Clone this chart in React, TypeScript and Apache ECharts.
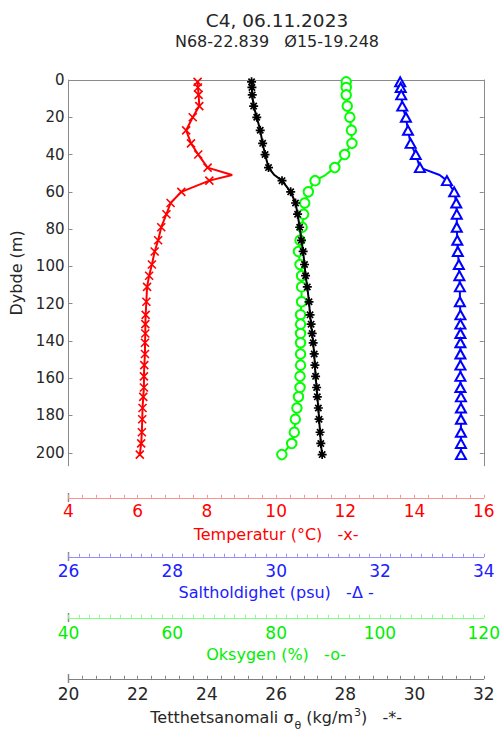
import React, { useEffect, useRef } from 'react';
import * as echarts from 'echarts';

// ---- data ----
const depth = [1, 4, 8, 14, 20, 27, 34, 40, 47, 51, 54, 60, 66, 72, 79, 86, 92, 99, 105, 111, 119, 126, 131, 136, 141, 147, 153, 159, 165, 170, 176, 182, 189, 195, 201];
const temperature = [7.73, 7.74, 7.76, 7.78, 7.59, 7.40, 7.54, 7.75, 8.02, 8.73, 8.07, 7.26, 6.95, 6.83, 6.68, 6.59, 6.49, 6.41, 6.33, 6.27, 6.25, 6.23, 6.22, 6.22, 6.21, 6.21, 6.19, 6.18, 6.18, 6.16, 6.14, 6.13, 6.12, 6.10, 6.06];
const salinity = [32.39, 32.40, 32.41, 32.43, 32.50, 32.54, 32.59, 32.69, 32.77, 33.15, 33.29, 33.43, 33.47, 33.48, 33.48, 33.49, 33.50, 33.52, 33.53, 33.54, 33.54, 33.55, 33.55, 33.55, 33.55, 33.55, 33.55, 33.55, 33.55, 33.56, 33.56, 33.56, 33.56, 33.56, 33.56];
const oxygen = [93.5, 93.5, 93.5, 93.7, 94.2, 94.5, 94.6, 93.2, 91.3, 89.5, 87.5, 86.2, 85.5, 85.3, 85.0, 84.6, 84.3, 84.6, 84.9, 84.9, 84.9, 84.7, 84.7, 84.7, 84.7, 84.7, 84.7, 84.6, 84.6, 84.3, 84.0, 83.7, 83.5, 83.0, 81.1];
const density = [25.29, 25.30, 25.31, 25.35, 25.44, 25.54, 25.61, 25.68, 25.78, 25.95, 26.17, 26.42, 26.56, 26.62, 26.68, 26.73, 26.78, 26.82, 26.85, 26.90, 26.95, 26.98, 27.01, 27.04, 27.07, 27.10, 27.12, 27.14, 27.17, 27.19, 27.22, 27.24, 27.27, 27.29, 27.33];
// depths that are drawn as line vertices only (no marker in the reference)
const unmarkedDepths = [51];

// ---- axis ticks / ranges ----
const depthTicks = [0, 20, 40, 60, 80, 100, 120, 140, 160, 180, 200];
const depthMax = 207;
const temperatureTicks = [4, 6, 8, 10, 12, 14, 16];
const salinityTicks = [26, 28, 30, 32, 34];
const oxygenTicks = [40, 60, 80, 100, 120];
const densityTicks = [20, 22, 24, 26, 28, 30, 32];

const titleText = 'C4, 06.11.2023';
const subtitleText = 'N68-22.839   Ø15-19.248';

const FONT = '"DejaVu Sans", "Liberation Sans", Arial, sans-serif';
const TXT = '#262626';
const GRAY = '#8a8a8a';

const GRID = { left: 68.5, top: 80, width: 419, height: 390 };

type AxisCfg = {
  ticks: number[];
  split: number;
  offset: number;
  lineColor: string;
  labelColor: string;
  margin: number;
  name: string;
  nameGap: number;
  rich?: any;
};

function bottomAxis(c: AxisCfg) {
  return {
    type: 'value',
    gridIndex: 0,
    position: 'bottom',
    offset: c.offset,
    min: c.ticks[0],
    max: c.ticks[c.ticks.length - 1],
    interval: c.ticks[1] - c.ticks[0],
    axisLine: { show: true, onZero: false, lineStyle: { color: c.lineColor, width: 1 } },
    axisTick: { show: true, inside: true, length: 3, lineStyle: { color: c.lineColor, width: 1 } },
    minorTick: { show: true, splitNumber: c.split, length: 3, lineStyle: { color: c.lineColor, width: 1 } },
    splitLine: { show: false },
    minorSplitLine: { show: false },
    axisLabel: { color: c.labelColor, fontSize: 17, fontFamily: FONT, margin: c.margin, showMinLabel: true, showMaxLabel: true },
    name: c.name,
    nameLocation: 'middle',
    nameGap: c.nameGap,
    nameTextStyle: { color: c.labelColor, fontSize: 16, fontFamily: FONT, rich: c.rich },
  };
}

const axesCfg: AxisCfg[] = [
  { ticks: temperatureTicks, split: 5, offset: 32, lineColor: '#ff9090', labelColor: '#ff0000', margin: 5, name: 'Temperatur (°C)   -x-', nameGap: 29 },
  { ticks: salinityTicks, split: 10, offset: 91, lineColor: '#9090ff', labelColor: '#2020ff', margin: 6, name: 'Saltholdighet (psu)   -Δ -', nameGap: 26 },
  { ticks: oxygenTicks, split: 10, offset: 152, lineColor: '#80ff80', labelColor: '#00ee00', margin: 6.5, name: 'Oksygen (%)   -o-', nameGap: 26 },
  {
    ticks: densityTicks, split: 5, offset: 213, lineColor: '#808080', labelColor: TXT, margin: 6.3,
    name: '{a|Tetthetsanomali σ}{b|θ}{a| (kg/m}{c|3}{a|)   -*-}', nameGap: 24,
    rich: {
      a: { fontSize: 16, fontFamily: FONT, color: TXT },
      b: { fontSize: 11, fontFamily: FONT, color: TXT, padding: [16, 0, 0, 1] },
      c: { fontSize: 11, fontFamily: FONT, color: TXT, padding: [0, 0, 10, 1] },
    },
  },
];

const pts = (vals: number[]) =>
  vals.map((v, i) =>
    unmarkedDepths.includes(depth[i]) ? { value: [v, depth[i]], symbol: 'none' } : { value: [v, depth[i]] }
  );

function buildOption() {
  const gridBottom = GRID.top + GRID.height;
  const stubs = axesCfg.map((c) => ({
    type: 'line',
    shape: { x1: GRID.left, y1: gridBottom + c.offset - 9, x2: GRID.left, y2: gridBottom + c.offset },
    style: { stroke: '#8a8a8a', lineWidth: 1.5 },
    silent: true,
  }));

  const yBase = {
    type: 'value',
    gridIndex: 0,
    inverse: true,
    min: 0,
    max: depthMax,
    interval: 20,
    splitLine: { show: false },
    axisLine: { show: true, onZero: false, lineStyle: { color: GRAY, width: 1 } },
    axisTick: { show: true, inside: true, length: 4, lineStyle: { color: GRAY }, customValues: depthTicks },
  };

  return {
    animation: false,
    backgroundColor: '#ffffff',
    grid: [{ left: GRID.left, top: GRID.top, width: GRID.width, height: GRID.height, containLabel: false }],
    xAxis: [
      ...axesCfg.map(bottomAxis),
      {
        type: 'value', gridIndex: 0, position: 'top', min: 0, max: 1,
        axisLine: { show: true, onZero: false, lineStyle: { color: GRAY, width: 1 } },
        axisTick: { show: false }, axisLabel: { show: false }, splitLine: { show: false },
      },
    ],
    yAxis: [
      {
        ...yBase,
        position: 'left',
        axisLabel: { color: TXT, fontSize: 15, fontFamily: FONT, margin: 4, customValues: depthTicks },
        name: 'Dybde (m)',
        nameLocation: 'middle',
        nameGap: 42,
        nameRotate: 90,
        nameTextStyle: { color: TXT, fontSize: 16, fontFamily: FONT },
      },
      {
        ...yBase,
        position: 'right',
        axisLabel: { show: false },
      },
    ],
    graphic: [
      {
        type: 'text', x: 277, y: 20.5,
        style: { text: titleText, fill: TXT, font: `18.5px ${FONT}`, textAlign: 'center', textVerticalAlign: 'middle' },
      },
      {
        type: 'text', x: 277, y: 41,
        style: { text: subtitleText, fill: TXT, font: `16px ${FONT}`, textAlign: 'center', textVerticalAlign: 'middle' },
      },
      ...stubs,
    ],
    series: [
      {
        type: 'line', name: 'Temperatur', xAxisIndex: 0, yAxisIndex: 0, data: pts(temperature),
        symbol: 'path://M0,0L10,10M10,0L0,10', symbolSize: 8,
        lineStyle: { color: '#ff0000', width: 2 },
        itemStyle: { color: '#ff0000', borderColor: '#ff0000', borderWidth: 1.6 },
        silent: true, z: 3,
      },
      {
        type: 'line', name: 'Saltholdighet', xAxisIndex: 1, yAxisIndex: 0, data: pts(salinity),
        symbol: 'emptyTriangle', symbolSize: [10, 9],
        lineStyle: { color: '#0000ff', width: 2 },
        itemStyle: { color: '#0000ff', borderColor: '#0000ff', borderWidth: 1.5 },
        silent: true, z: 3,
      },
      {
        type: 'line', name: 'Oksygen', xAxisIndex: 2, yAxisIndex: 0, data: pts(oxygen),
        symbol: 'emptyCircle', symbolSize: 9.5,
        lineStyle: { color: '#00ff00', width: 2 },
        itemStyle: { color: '#00ff00', borderColor: '#00ff00', borderWidth: 1.5 },
        silent: true, z: 3,
      },
      {
        type: 'line', name: 'Tetthetsanomali', xAxisIndex: 3, yAxisIndex: 0, data: pts(density),
        symbol: 'path://M5,0L5,10M0,5L10,5M1.5,1.5L8.5,8.5M8.5,1.5L1.5,8.5', symbolSize: 9,
        lineStyle: { color: '#000000', width: 2 },
        itemStyle: { color: '#000000', borderColor: '#000000', borderWidth: 1.7 },
        silent: true, z: 4,
      },
    ],
  };
}

export default function App() {
  const ref = useRef<HTMLDivElement>(null);
  useEffect(() => {
    if (!ref.current) return;
    const chart = echarts.init(ref.current, null, { renderer: 'svg' });
    chart.setOption(buildOption() as any);
    return () => chart.dispose();
  }, []);
  return (
    <div
      ref={ref}
      style={{ position: 'absolute', left: 0, top: 0, width: 503, height: 736, background: '#ffffff' }}
    />
  );
}
